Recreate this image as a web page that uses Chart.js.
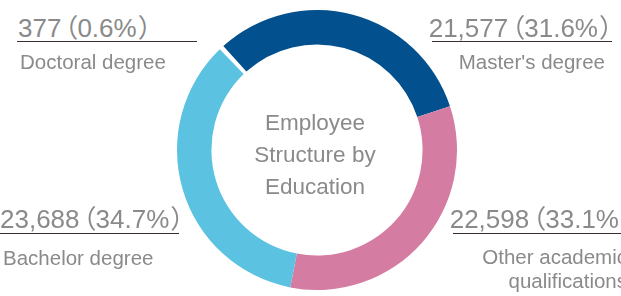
<!DOCTYPE html>
<html>
<head>
<meta charset="utf-8">
<script src="https://cdn.jsdelivr.net/npm/chart.js@4"></script>
<style>
  html, body { margin: 0; padding: 0; background: #fff; }
  body { width: 621px; height: 296px; position: relative; overflow: hidden;
         font-family: "Liberation Sans", Arial, sans-serif; color: #8a8a8a; }
  #wrap { position: absolute; left: 177px; top: 10px; width: 280px; height: 280px; }
  .center { position: absolute; left: 215px; top: 107px; width: 200px; text-align: center;
            font-size: 22.5px; line-height: 32px; }
  .num { position: absolute; font-size: 26px; line-height: 26px; white-space: nowrap; }
  .num .p { font-family: "Noto Sans CJK JP", sans-serif; font-feature-settings: "palt"; }
  .num .o { margin-left: 3px; }
  .num .c { margin-left: 2px; }
  .rule { position: absolute; height: 1px; background: #3b3030; }
  .lab { position: absolute; width: 170px; font-size: 20.5px; line-height: 24px; }
</style>
</head>
<body>
<div id="wrap"><canvas id="eduChart"></canvas></div>
<div class="center">Employee<br>Structure by<br>Education</div>
<script>
// Chart data
const categories = ['Doctoral degree', "Master's degree", 'Other academic qualifications', 'Bachelor degree'];
const employees = [377, 21577, 22598, 23688];
const shares = [0.6, 31.6, 33.1, 34.7];
const colors = ['#ffffff', '#02508e', '#d57ca2', '#5bc3e1'];

// callout layout: x = rule start, numTop, ruleY, labTop, labInset
const callouts = [
    { x: 17, numTop: 13, ruleY: 41, labTop: 50, inset: 3, side: 'left' },
    { x: 432, numTop: 13, ruleY: 41, labTop: 50, inset: 7, side: 'right' },
    { x: 453, numTop: 204, ruleY: 233, labTop: 245, inset: 6, side: 'right' },
    { x: -1, numTop: 204, ruleY: 233, labTop: 246, inset: 4, side: 'left' }
];

callouts.forEach(function(c, i) {
    const num = document.createElement('div');
    num.className = 'num';
    num.innerHTML = employees[i].toLocaleString('en-US') +
        '<span class="p o">（</span>' + shares[i] + '%<span class="p c">）</span>';
    num.style.top = c.numTop + 'px';
    if (c.side === 'left') num.style.left = (c.x + 1) + 'px';
    else num.style.right = (621 - c.x - 181) + 'px';
    document.body.appendChild(num);

    const rule = document.createElement('div');
    rule.className = 'rule';
    rule.style.left = c.x + 'px';
    rule.style.width = '180px';
    rule.style.top = c.ruleY + 'px';
    document.body.appendChild(rule);

    const lab = document.createElement('div');
    lab.className = 'lab';
    lab.textContent = categories[i];
    lab.style.top = c.labTop + 'px';
    if (c.side === 'left') {
        lab.style.left = (c.x + c.inset) + 'px';
    } else {
        lab.style.left = (c.x + 180 - c.inset - 170) + 'px';
        lab.style.textAlign = 'right';
    }
    document.body.appendChild(lab);
});

const ctx = document.getElementById('eduChart').getContext('2d');
const eduChart = new Chart(ctx, {
    type: 'doughnut',
    data: {
        labels: categories,
        datasets: [{
            data: employees,
            backgroundColor: colors,
            borderWidth: 0
        }]
    },
    options: {
        responsive: true,
        maintainAspectRatio: false,
        animation: false,
        cutout: '75.4%',
        rotation: -44,
        plugins: {
            legend: { display: false },
            tooltip: { enabled: false }
        }
    }
});
</script>
</body>
</html>
